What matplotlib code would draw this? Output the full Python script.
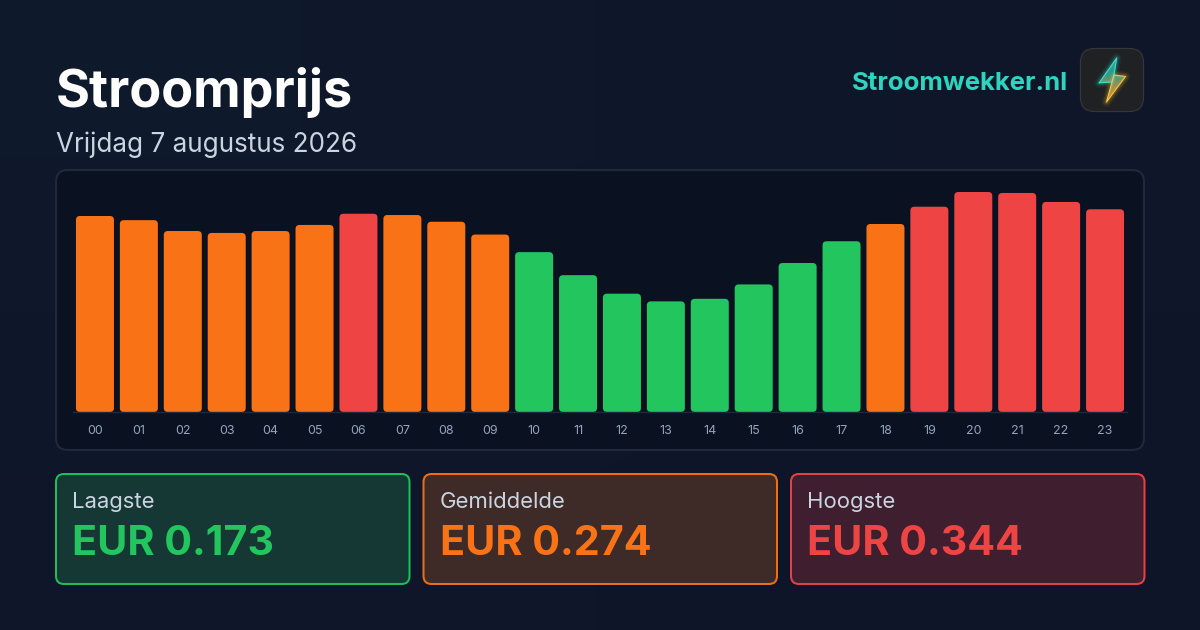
import matplotlib
matplotlib.use('Agg')
import matplotlib.pyplot as plt
from matplotlib.colors import LinearSegmentedColormap
from matplotlib.patches import FancyBboxPatch, Polygon
import numpy as np

plt.rcParams['font.family'] = ['Inter', 'DejaVu Sans']

hours = ['%02d' % h for h in range(24)]
prices = [0.3065, 0.300, 0.283, 0.280, 0.283, 0.2925, 0.310, 0.308,
          0.2975, 0.2775, 0.250, 0.214, 0.185, 0.173, 0.177, 0.1995,
          0.233, 0.267, 0.294, 0.321, 0.344, 0.3425, 0.3285, 0.317]
levels = ['mid', 'mid', 'mid', 'mid', 'mid', 'mid', 'high', 'mid',
          'mid', 'mid', 'low', 'low', 'low', 'low', 'low', 'low',
          'low', 'low', 'mid', 'high', 'high', 'high', 'high', 'high']

stat_names = ['Laagste', 'Gemiddelde', 'Hoogste']
stat_values = ['EUR 0.173', 'EUR 0.274', 'EUR 0.344']
stat_levels = ['low', 'mid', 'high']

colors = {'low': '#22c55e', 'mid': '#f97316', 'high': '#ef4444'}
card_fills = {'low': '#163a35', 'mid': '#412d28', 'high': '#411f30'}


def rounded(ax, x0, y0, x1, y1, r, **kw):
    p = FancyBboxPatch((x0, y0), x1 - x0, y1 - y0,
                       boxstyle='round,pad=0,rounding_size=%g' % r, **kw)
    ax.add_patch(p)
    return p


fig = plt.figure(figsize=(12, 6.3), dpi=100, facecolor='#0f172a')

# whole figure in pixels, y going down
bg = fig.add_axes([0, 0, 1, 1])
bg.axis('off')

shade = np.array([[0.0, 0.5], [0.5, 1.0]])
bg_map = LinearSegmentedColormap.from_list('bg', ['#0e192b', '#0f172a', '#0f1529'])
bg.imshow(shade, extent=(0, 1200, 630, 0), cmap=bg_map, aspect='auto', interpolation='bilinear', zorder=0)

bg.text(56, 93, 'Stroomprijs', color='white', fontsize=37.5, fontweight='bold', va='center', ha='left')
bg.text(56, 145, 'Vrijdag 7 augustus 2026', color='#cbd5e1', fontsize=18.75, va='center', ha='left')
bg.text(1068, 83, 'Stroomwekker.nl', color='#2dd4bf', fontsize=18.5, fontweight='bold', va='center', ha='right')

# logo
rounded(bg, 1080.5, 48.5, 1143.5, 111.5, 14, fc='#1f2123', ec='#33363a', lw=0.9, zorder=2)
bolt = [(1116.7, 58), (1099, 83), (1112, 82), (1106.5, 102), (1125.5, 76.5), (1114, 75)]
bolt_top = bolt[:3] + [(1114, 75)]
bolt_bottom = bolt[2:]
for lw, a in [(7, 0.06), (5, 0.09), (3, 0.16)]:
    bg.add_patch(Polygon(bolt_top, closed=True, fill=False, ec='#2dd4bf', lw=lw, alpha=a, joinstyle='round', zorder=3))
    bg.add_patch(Polygon(bolt_bottom, closed=True, fill=False, ec='#fbbf24', lw=lw, alpha=a, joinstyle='round', zorder=3))
grad = LinearSegmentedColormap.from_list('bolt', ['#2dd4bf', '#2dc4b0', '#d9b65a', '#fbbf24'])
im = bg.imshow(np.linspace(0, 1, 50).reshape(-1, 1), extent=(1095, 1130, 104, 56), cmap=grad,
               aspect='auto', zorder=4, alpha=0.7)
im.set_clip_path(Polygon(bolt, closed=True, transform=bg.transData))
bg.add_patch(Polygon(bolt_top, closed=True, fill=False, ec='#3fe0cc', lw=0.8, joinstyle='round', zorder=5))
bg.add_patch(Polygon(bolt_bottom, closed=True, fill=False, ec='#fcc24a', lw=0.8, joinstyle='round', zorder=5))
bg.set_xlim(0, 1200)
bg.set_ylim(630, 0)

# chart panel
rounded(bg, 56, 170, 1144, 450, 12, fc='#0a1222', ec='#1e293b', lw=1.5, zorder=1)

# cards
card_lefts = [56, 423.5, 791]
for name, value, level, left in zip(stat_names, stat_values, stat_levels, card_lefts):
    rounded(bg, left, 474, left + 353.5, 584, 8, fc=card_fills[level], ec=colors[level], lw=1.45, alpha=0.95, zorder=1)
    bg.text(left + 16, 502, name, color='#cbd5e1', fontsize=15.9, va='center', ha='left')
    bg.text(left + 16, 544, value, color=colors[level], fontsize=29.7, fontweight='bold', va='center', ha='left')

# bars, on their own axes: baseline at y=412px, 639.5 px per euro
ax = fig.add_axes([73 / 1200, (630 - 412) / 630, 1054 / 1200, 232 / 630])
ax.patch.set_alpha(0)
ax.set_xlim(-0.5, 23.5)
ax.set_ylim(0, 232 / 639.5)
px_x = 24 / 1054
px_y = (232 / 639.5) / 232
bar_w = 38 * px_x
for i, (price, level) in enumerate(zip(prices, levels)):
    p = FancyBboxPatch((i - bar_w / 2, 0), bar_w, price,
                       boxstyle='round,pad=0,rounding_size=%g' % (4 * px_x),
                       mutation_aspect=px_y / px_x, fc=colors[level], ec='none', clip_on=False)
    ax.add_patch(p)

ax.set_xticks(range(24))
ax.set_xticklabels(hours, fontsize=9, color='#94a3b8')
ax.tick_params(axis='x', length=0, pad=9.5)
ax.set_yticks([])
for side in ['top', 'left', 'right']:
    ax.spines[side].set_visible(False)
ax.spines['bottom'].set_color('#1e293b')
ax.spines['bottom'].set_linewidth(1.0)

fig.savefig('out.png', dpi=100, facecolor=fig.get_facecolor())
